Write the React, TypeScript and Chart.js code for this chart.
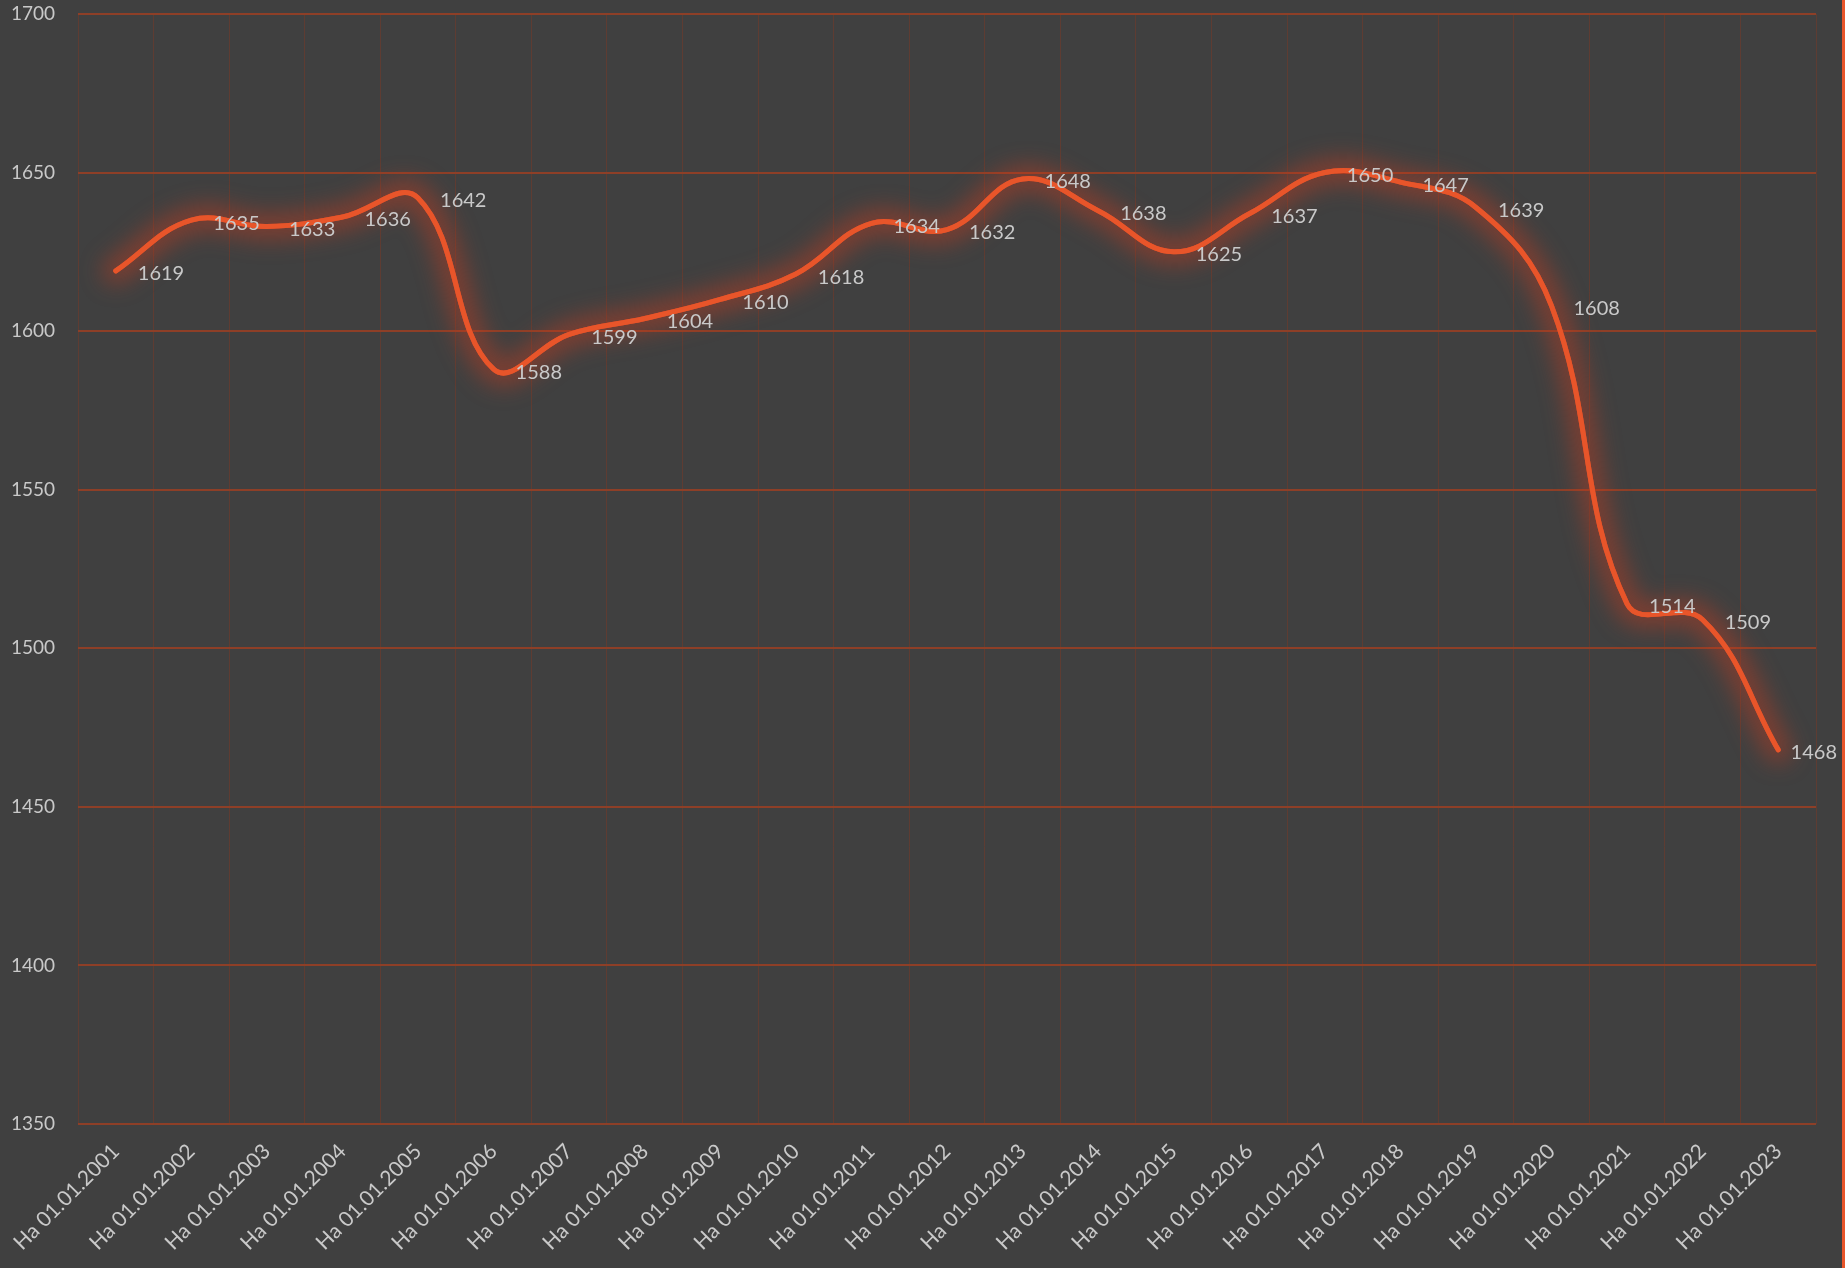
import React, { useEffect, useRef } from "react";
import { Chart, registerables } from "chart.js";

Chart.register(...registerables);

const categories = [
  "На 01.01.2001", "На 01.01.2002", "На 01.01.2003", "На 01.01.2004", "На 01.01.2005",
  "На 01.01.2006", "На 01.01.2007", "На 01.01.2008", "На 01.01.2009", "На 01.01.2010",
  "На 01.01.2011", "На 01.01.2012", "На 01.01.2013", "На 01.01.2014", "На 01.01.2015",
  "На 01.01.2016", "На 01.01.2017", "На 01.01.2018", "На 01.01.2019", "На 01.01.2020",
  "На 01.01.2021", "На 01.01.2022", "На 01.01.2023",
];

const values = [
  1619, 1635, 1633, 1636, 1642, 1588, 1599, 1604, 1610, 1618, 1634, 1632,
  1648, 1638, 1625, 1637, 1650, 1647, 1639, 1608, 1514, 1509, 1468,
];

const yMin = 1350;
const yMax = 1700;
const yStep = 50;

const W = 1842;
const H = 1268;
const FONT = "Lato, 'Open Sans', sans-serif";
const TEXT_COLOR = "#c9c9c9";
const LINE_COLOR = "#e8552a";

const glowAndLabels = {
  id: "glowAndLabels",
  afterDatasetsDraw(chart: any) {
    const ctx = chart.ctx;
    const meta = chart.getDatasetMeta(0);
    const line = meta.dataset;

    // soft halo
    ctx.save();
    ctx.filter = "blur(11px)";
    ctx.beginPath();
    line.path(ctx);
    ctx.lineWidth = 27;
    ctx.lineCap = "round";
    ctx.lineJoin = "round";
    ctx.strokeStyle = "rgba(200, 60, 32, 0.45)";
    ctx.stroke();
    ctx.restore();

    // redraw line on top of its halo
    ctx.save();
    line.draw(ctx, chart.chartArea);
    ctx.restore();

    // data labels
    ctx.save();
    ctx.font = `20px ${FONT}`;
    ctx.fillStyle = TEXT_COLOR;
    ctx.textAlign = "left";
    ctx.textBaseline = "middle";
    meta.data.forEach((pt: any, i: number) => {
      const txt = String(values[i]);
      const w = ctx.measureText(txt).width;
      let x = pt.x + 22;
      if (x + w > chart.width - 5) x = chart.width - 5 - w;
      ctx.fillText(txt, x, pt.y + 3);
    });
    ctx.restore();
  },
};

export default function App() {
  const ref = useRef<HTMLCanvasElement>(null);

  useEffect(() => {
    if (!ref.current) return;
    const chart = new Chart(ref.current, {
      type: "line",
      data: {
        labels: categories,
        datasets: [
          {
            data: values,
            borderColor: LINE_COLOR,
            borderWidth: 5,
            borderCapStyle: "round",
            borderJoinStyle: "round",
            pointRadius: 0,
            pointHoverRadius: 0,
            tension: 0.4,
            fill: false,
          },
        ],
      },
      options: {
        animation: false,
        responsive: false,
        devicePixelRatio: 1,
        layout: { padding: { top: 14, right: 26, left: 0, bottom: 0 } },
        plugins: {
          legend: { display: false },
          tooltip: { enabled: false },
          title: { display: false },
        },
        scales: {
          x: {
            type: "category",
            offset: true,
            grid: {
              offset: true,
              drawTicks: false,
              color: "#5e3c32",
              lineWidth: 1,
            },
            border: { display: false },
            ticks: {
              autoSkip: false,
              maxRotation: 45,
              minRotation: 45,
              padding: 15,
              color: TEXT_COLOR,
              font: { family: FONT, size: 21 },
            },
            afterFit: (s: any) => {
              s.height = H - 1124;
            },
          },
          y: {
            min: yMin,
            max: yMax,
            grid: {
              drawTicks: true,
              tickLength: 23,
              tickColor: "rgba(0,0,0,0)",
              color: "#8e3f27",
              lineWidth: 2,
            },
            border: { display: false },
            ticks: {
              stepSize: yStep,
              padding: 0,
              color: TEXT_COLOR,
              font: { family: FONT, size: 19 },
              callback: (v: any) => String(v),
            },
            afterFit: (s: any) => {
              s.width = 78;
            },
          },
        },
      },
      plugins: [glowAndLabels],
    });
    return () => chart.destroy();
  }, []);

  return (
    <div
      style={{
        position: "fixed",
        left: 0,
        top: 0,
        width: 1845,
        height: H,
        background: "#404040",
        borderRight: "3px solid #e8552a",
        boxSizing: "border-box",
        overflow: "hidden",
      }}
    >
      <canvas ref={ref} width={W} height={H} style={{ display: "block", width: W, height: H }} />
    </div>
  );
}
